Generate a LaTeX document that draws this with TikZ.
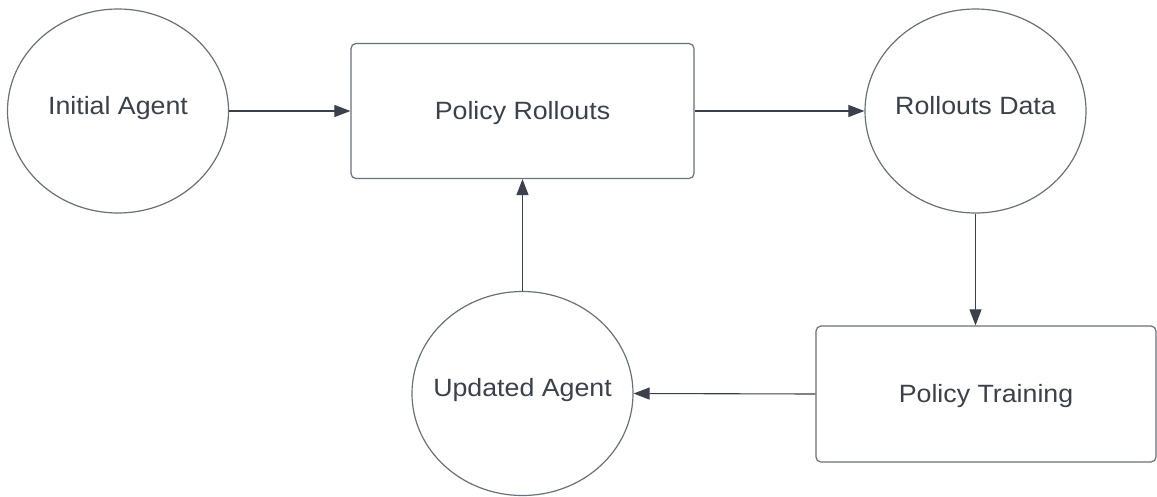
\documentclass[tikz,border=0pt]{standalone}
\usepackage{fontspec}
\setmainfont{Liberation Sans}[FakeStretch=1.07]
\usetikzlibrary{shapes.geometric,arrows.meta}
\definecolor{inkc}{HTML}{3A414A}
\definecolor{edgec}{HTML}{6A7078}
\tikzset{
  lbl/.style={text=inkc, font=\fontsize{25}{30}\selectfont,
    text height=18pt, text depth=5pt},
  agent/.style={ellipse, draw=edgec, line width=1.2pt, inner sep=0pt,
    minimum width=221pt, minimum height=204pt, lbl},
  stage/.style={rectangle, rounded corners=5pt, draw=edgec, line width=1.2pt,
    inner sep=0pt, lbl},
  flow/.style={draw=inkc, line width=1.1pt, -{Triangle[length=16pt,width=12pt]}}
}
\begin{document}
\begin{tikzpicture}[x=1pt, y=-1pt]
\useasboundingbox (0,0) rectangle (1157,496);
% shapes
\node[agent] (ia) at (118,111) {};
\node[stage, minimum width=343pt, minimum height=135pt] (pr) at (522.5,111) {};
\node[agent] (rd) at (975.5,111) {};
\node[stage, minimum width=340pt, minimum height=136pt] (pt) at (986,394) {};
\node[agent] (ua) at (522.5,393.5) {};
% labels
\node[lbl] (iat) at ([yshift=3.5pt]ia.center) {Initial Agent};
\node[lbl] (prt) at ([yshift=-2pt]pr.center) {Policy Rollouts};
\node[lbl] (rdt) at ([yshift=3.5pt]rd.center) {Rollouts Data};
\node[lbl] (ptt) at ([yshift=-1.5pt]pt.center) {Policy Training};
\node[lbl] (uat) at ([yshift=3.5pt]ua.center) {Updated Agent};
% connectors
\draw[flow] (ia.east) -- (pr.west);
\draw[flow] (pr.east) -- (rd.west);
\draw[flow] (rd.south) -- (rd.south |- pt.north);
\draw[flow] (pt.west) -- (ua.east);
\draw[flow] (ua.north) -- (ua.north |- pr.south);
\end{tikzpicture}
\end{document}
